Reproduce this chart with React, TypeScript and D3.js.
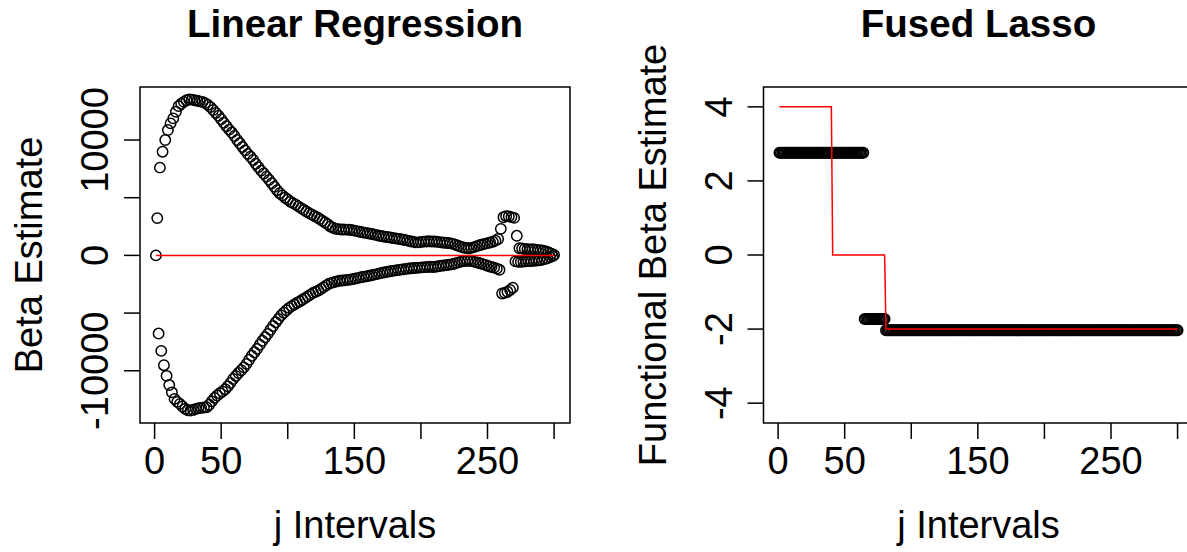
import React from 'react'
import * as d3 from 'd3'

// linear regression estimates, odd j = 1, 3, ..., 299
const lowerBeta = [
  0,
  -6776, -8276, -9517, -10440, -11240, -11870, -12440, -12700, -12870, -13100,
  -13300, -13420, -13450, -13400, -13300, -13250, -13220, -13180, -13160, -12950,
  -12650, -12350, -12150, -11950, -11800, -11600, -11350, -11050, -10716, -10450,
  -10200, -9950, -9707, -9400, -9050, -8700, -8400, -8100, -7750, -7400,
  -7100, -6800, -6450, -6120, -5800, -5500, -5200, -4970, -4750, -4550,
  -4400, -4250, -4110, -4000, -3850, -3700, -3550, -3400, -3250, -3150,
  -3050, -2900, -2750, -2600, -2450, -2380, -2300, -2250, -2200, -2170,
  -2150, -2120, -2100, -2050, -2000, -1950, -1900, -1850, -1815, -1770,
  -1720, -1670, -1620, -1560, -1500, -1460, -1420, -1380, -1340, -1300,
  -1260, -1230, -1200, -1170, -1140, -1110, -1090, -1080, -1060, -1040,
  -1020, -1000, -990, -1000, -980, -940, -900, -870, -840, -810,
  -780, -720, -650, -580, -520, -480, -460, -470, -520, -580,
  -640, -700, -780, -860, -940, -1000, -1060, -1150, -1250,
  -3300, -3250, -3150, -3000, -2800, -520, -560, -560, -540, -520,
  -500, -500, -470, -450, -420, -380, -320, -250, -150, -60,
]

// linear regression estimates, even j = 2, 4, ..., 300
const upperBeta = [
  3232, 7606, 8990, 10000, 10864, 11443, 11875, 12446, 12938, 13150,
  13310, 13450, 13518, 13500, 13450, 13400, 13350, 13300, 13200, 13050,
  12850, 12600, 12350, 12100, 11800, 11500, 11200, 10900, 10650, 10350,
  10000, 9715, 9400, 9100, 8800, 8550, 8271, 7950, 7650, 7350,
  7100, 6828, 6550, 6250, 5950, 5650, 5393, 5200, 5000, 4850,
  4650, 4529, 4400, 4250, 4100, 3950, 3800, 3665, 3550, 3420,
  3300, 3150, 3000, 2850, 2700, 2500, 2400, 2300, 2280, 2250,
  2240, 2230, 2220, 2200, 2150, 2100, 2050, 2000, 1950, 1920,
  1880, 1830, 1780, 1720, 1680, 1640, 1600, 1570, 1530, 1490,
  1450, 1420, 1380, 1330, 1280, 1230, 1180, 1130, 1130, 1160,
  1190, 1210, 1220, 1210, 1200, 1180, 1150, 1120, 1100, 1080,
  1060, 1000, 920, 830, 750, 680, 640, 620, 650, 720,
  800, 880, 940, 1000, 1060, 1120, 1180, 1280, 1420,
  2300, 3300, 3400, 3380, 3320, 3250, 1700, 620, 600, 560,
  540, 520, 540, 500, 460, 440, 400, 340, 260, 150, 40,
]

// fused lasso estimate: level and last j of each flat piece
const fusedLevels = [2.76, -1.73, -2.03]
const fusedEnds = [64, 80, 300]

// true beta (red): level and last j of each flat piece
const trueLevels = [4, 0, -2]
const trueEnds = [40, 80, 300]
const linearTrueLevels = [0]
const linearTrueEnds = [300]

const xTicks = [0, 50, 100, 150, 200, 250, 300]
const xLabels = [0, 50, 150, 250]
const leftYTicks = [-10000, -5000, 0, 5000, 10000]
const leftYLabels = [-10000, 0, 10000]
const rightYTicks = [-4, -2, 0, 2, 4]
const rightYLabels = [-4, -2, 0, 2, 4]

const J = d3.range(1, 301)
const font = '"Liberation Sans", Arial, Helvetica, sans-serif'

const stepValues = (levels: number[], ends: number[]) =>
  J.map((j) => levels[ends.findIndex((e) => j <= e)])

const linearPoints = [
  ...lowerBeta.map((v, i) => ({ j: 2 * i + 1, v })),
  ...upperBeta.map((v, i) => ({ j: 2 * i + 2, v })),
]
const fusedPoints = stepValues(fusedLevels, fusedEnds).map((v, i) => ({ j: J[i], v }))

// R style range padding (4%)
const pad = (lo: number, hi: number) => {
  const d = (hi - lo) * 0.04
  return [lo - d, hi + d]
}

type PanelProps = {
  x0: number
  title: string
  yTitle: string
  points: { j: number; v: number }[]
  redLine: number[]
  yDomain: number[]
  yTicks: number[]
  yLabels: number[]
}

const top = 87
const bottom = 423
const width = 430

function Panel({ x0, title, yTitle, points, redLine, yDomain, yTicks, yLabels }: PanelProps) {
  const x = d3.scaleLinear().domain(pad(1, 300)).range([x0, x0 + width])
  const y = d3.scaleLinear().domain(yDomain).range([bottom, top])
  const line = d3.line<number>().x((_, i) => x(J[i])).y((d) => y(d))
  const cx = x0 + width / 2
  const cy = (top + bottom) / 2
  const fmt = (t: number) => String(t)

  return (
    <g fontFamily={font}>
      <text x={cx} y={37} textAnchor="middle" fontSize={38.5} fontWeight="bold">{title}</text>
      <rect x={x0} y={top} width={width} height={bottom - top} fill="none" stroke="#000" strokeWidth={1.5} />
      {points.map((p, i) => (
        <circle key={i} cx={x(p.j)} cy={y(p.v)} r={5.2} fill="none" stroke="#000" strokeWidth={1.5} />
      ))}
      <path d={line(redLine) || ''} fill="none" stroke="#ff0000" strokeWidth={1.5} />
      {xTicks.map((t) => (
        <line key={t} x1={x(t)} x2={x(t)} y1={bottom} y2={bottom + 16} stroke="#000" strokeWidth={1.5} />
      ))}
      {xLabels.map((t) => (
        <text key={t} x={x(t)} y={474} textAnchor="middle" fontSize={38}>{fmt(t)}</text>
      ))}
      {yTicks.map((t) => (
        <line key={t} x1={x0 - 16} x2={x0} y1={y(t)} y2={y(t)} stroke="#000" strokeWidth={1.5} />
      ))}
      {yLabels.map((t) => (
        <text key={t} transform={`translate(${x0 - 32},${y(t)}) rotate(-90)`} textAnchor="middle" fontSize={38}>{fmt(t)}</text>
      ))}
      <text x={cx} y={538} textAnchor="middle" fontSize={38}>j Intervals</text>
      <text transform={`translate(${x0 - 98},${cy}) rotate(-90)`} textAnchor="middle" fontSize={38}>{yTitle}</text>
    </g>
  )
}

export default function App() {
  const linExtent = d3.extent(linearPoints, (d) => d.v) as [number, number]
  return (
    <div style={{ position: 'absolute', left: 0, top: 0 }}>
      <svg width={1187} height={552} style={{ display: 'block', background: '#fff' }}>
        <Panel
          x0={140}
          title="Linear Regression"
          yTitle="Beta Estimate"
          points={linearPoints}
          redLine={stepValues(linearTrueLevels, linearTrueEnds)}
          yDomain={pad(linExtent[0], linExtent[1])}
          yTicks={leftYTicks}
          yLabels={leftYLabels}
        />
        <Panel
          x0={763.5}
          title="Fused Lasso"
          yTitle="Functional Beta Estimate"
          points={fusedPoints}
          redLine={stepValues(trueLevels, trueEnds)}
          yDomain={pad(-4.2, 4.2)}
          yTicks={rightYTicks}
          yLabels={rightYLabels}
        />
      </svg>
    </div>
  )
}
